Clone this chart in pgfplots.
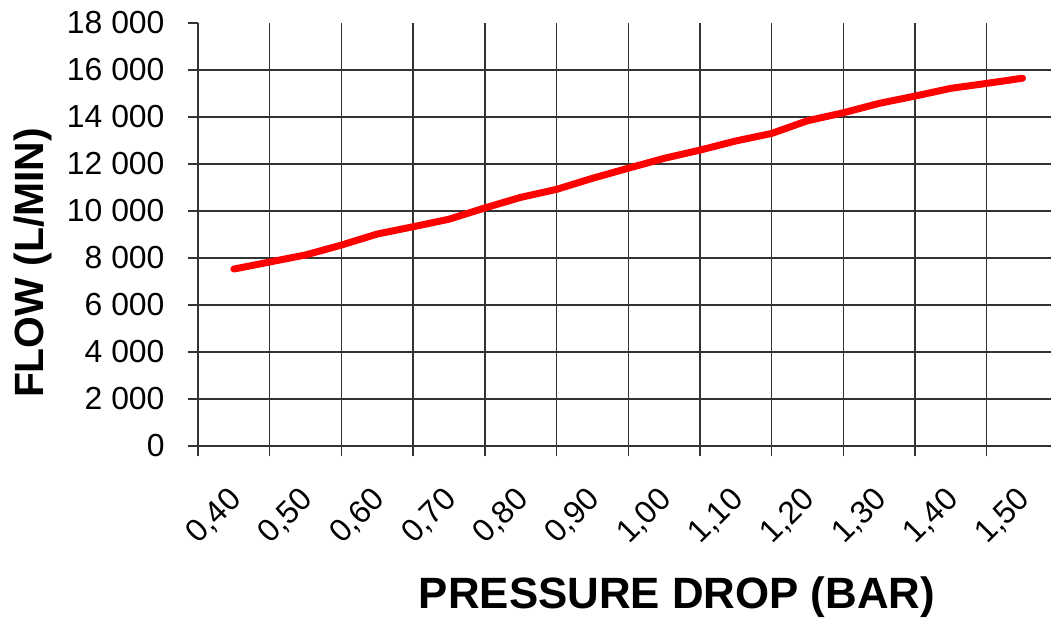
\documentclass[border=0pt]{standalone}
\usepackage{pgfplots}
\pgfplotsset{compat=1.18}
\usepackage{fontspec}
\setmainfont{Liberation Sans}

\begin{document}
\begin{tikzpicture}[x=1bp,y=1bp]
\useasboundingbox (0,0) rectangle (1051,-619);
\begin{axis}[
    at={(198bp,-446bp)}, anchor=south west,
    scale only axis, width=853bp, height=423bp,
    xmin=0.35, xmax=1.5397,
    ymin=0, ymax=18000,
    scaled y ticks=false,
    axis x line=bottom, axis y line=left,
    axis line style={-, line width=1.4bp, black!80},
    tick align=outside,
    xtick={0.40,0.50,0.60,0.70,0.80,0.90,1.00,1.10,1.20,1.30,1.40,1.50},
    xticklabels={{0,40},{0,50},{0,60},{0,70},{0,80},{0,90},{1,00},{1,10},{1,20},{1,30},{1,40},{1,50}},
    minor xtick={0.35,0.45,0.55,0.65,0.75,0.85,0.95,1.05,1.15,1.25,1.35,1.45},
    major x tick style={draw=none},
    minor x tick style={line width=1.4bp, black!80},
    minor tick length=10bp,
    xmajorgrids=false, xminorgrids=true,
    ytick={0,2000,4000,6000,8000,10000,12000,14000,16000},
    yticklabels={0,2 000,4 000,6 000,8 000,10 000,12 000,14 000,16 000},
    extra y ticks={18000},
    extra y tick labels={18 000},
    extra y tick style={grid=none},
    ymajorgrids=true,
    major y tick style={line width=1.4bp, black!80},
    major tick length=10bp,
    grid style={line width=1.4bp, black!80},
    tick label style={font=\fontsize{32}{38}\selectfont},
    yticklabel style={xshift=-20bp},
    xticklabel style={xshift=5bp, yshift=-36bp, rotate=45, anchor=east},
    xlabel={\bfseries PRESSURE DROP (BAR)},
    ylabel={\bfseries FLOW (L/MIN)},
    label style={font=\fontsize{41}{48}\selectfont},
    xlabel style={at={(rel axis cs:0.5616,-0.357)}, anchor=center, font=\fontsize{44}{50}\selectfont},
    ylabel style={at={(rel axis cs:-0.1934,0.4326)}, anchor=center},
]
\addplot[color=red, line width=7bp, line cap=round, line join=round]
    coordinates {
    (0.40,7530)(0.45,7830)(0.50,8130)(0.55,8550)(0.60,9020)(0.65,9330)
    (0.70,9650)(0.75,10130)(0.80,10580)(0.85,10920)(0.90,11390)(0.95,11820)
    (1.00,12240)(1.05,12590)(1.10,12980)(1.15,13300)(1.20,13840)(1.25,14180)
    (1.30,14580)(1.35,14890)(1.40,15220)(1.45,15430)(1.50,15650)
    };
\end{axis}
\end{tikzpicture}
\end{document}
